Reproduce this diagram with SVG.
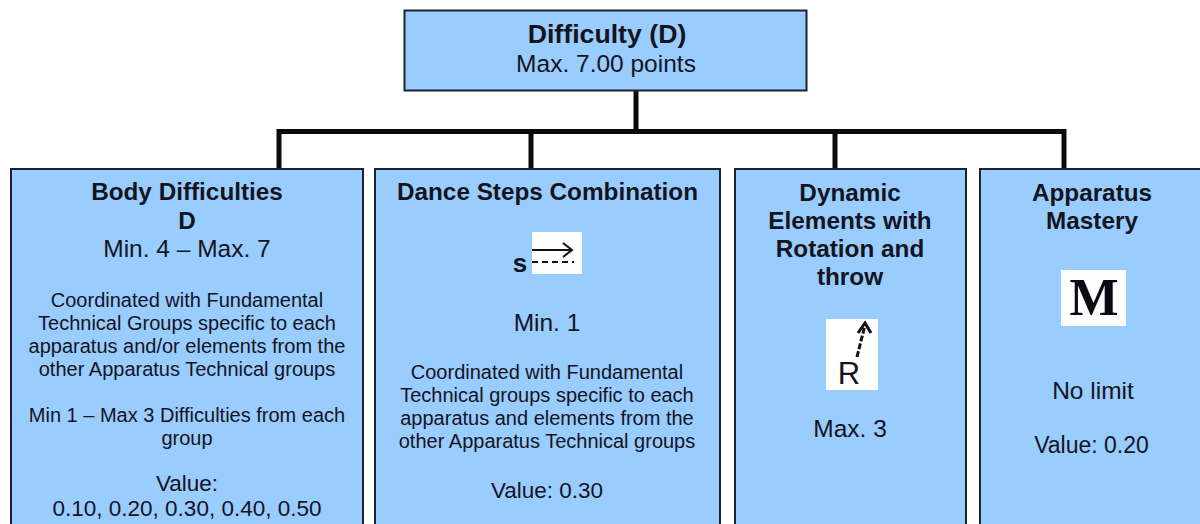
<svg xmlns="http://www.w3.org/2000/svg" width="1200" height="524" viewBox="0 0 1200 524">
<style>
.box{fill:#99ccff;stroke:#1a2230;stroke-width:2}
text{font-family:"Liberation Sans",Arial,sans-serif;fill:#14141c;text-anchor:middle}
.h{font-weight:bold;font-size:26.700px}
.t{font-weight:bold;font-size:24.300px}
.v{font-size:24.500px}
.s{font-size:20px}
.n{font-size:22.500px}
.w{fill:#fdfdfd}
.c{fill:none;stroke:#0a0a0a;stroke-width:5}
.g{fill:none;stroke:#111;stroke-width:2}
</style>
<rect width="1200" height="524" fill="#fff"/>
<g id="connectors">
<path class="c" d="M636 91V131"/>
<path class="c" d="M279 168V131.500H1064V168"/>
<path class="c" d="M531 131V168"/>
<path class="c" d="M835 131V168"/>
</g>
<g id="root">
<rect class="box" x="404.500" y="10.500" width="402" height="80"/>
<text class="h" x="607" y="43">Difficulty (D)</text>
<text class="v" x="606" y="72">Max. 7.00 points</text>
</g>
<g id="body-difficulties">
<rect class="box" x="11" y="169" width="352" height="370"/>
<text class="t" x="187" y="200">Body Difficulties</text>
<text class="t" x="187" y="229">D</text>
<text class="v" x="187" y="257">Min. 4 – Max. 7</text>
<text class="s" x="187" y="307">Coordinated with Fundamental</text>
<text class="s" x="187" y="330">Technical Groups specific to each</text>
<text class="s" x="187" y="353">apparatus and/or elements from the</text>
<text class="s" x="187" y="376">other Apparatus Technical groups</text>
<text class="s" x="187" y="422">Min 1 – Max 3 Difficulties from each</text>
<text class="s" x="187" y="445">group</text>
<text class="n" x="187" y="491">Value:</text>
<text class="n" x="187" y="516">0.10, 0.20, 0.30, 0.40, 0.50</text>
</g>
<g id="dance-steps">
<rect class="box" x="375" y="169" width="345" height="370"/>
<text class="t" x="547.500" y="200">Dance Steps Combination</text>
<rect class="w" x="532" y="232" width="50" height="42"/>
<text x="520" y="272" style="font-size:26px;font-weight:bold">s</text>
<path class="g" d="M532 250H572M563 243L572 250L563 257"/>
<path class="g" d="M532 262H574" stroke-dasharray="6 4"/>
<text class="v" x="547" y="331">Min. 1</text>
<text class="s" x="547" y="379">Coordinated with Fundamental</text>
<text class="s" x="547" y="402">Technical groups specific to each</text>
<text class="s" x="547" y="425">apparatus and elements from the</text>
<text class="s" x="547" y="448">other Apparatus Technical groups</text>
<text class="n" x="547" y="498">Value: 0.30</text>
</g>
<g id="dynamic-elements">
<rect class="box" x="735" y="169" width="231" height="370"/>
<text class="t" x="850" y="201">Dynamic</text>
<text class="t" x="850" y="229">Elements with</text>
<text class="t" x="850" y="257">Rotation and</text>
<text class="t" x="850" y="285">throw</text>
<rect fill="#fff" x="826" y="319" width="52" height="71"/>
<text x="849" y="384" style="font-size:31px">R</text>
<path d="M857 357L865 325" fill="none" stroke="#111" stroke-width="3" stroke-dasharray="6 2"/>
<path d="M858 333L865 323L871 333" fill="none" stroke="#111" stroke-width="3"/>
<text class="v" x="850" y="437">Max. 3</text>
</g>
<g id="apparatus-mastery">
<rect class="box" x="980" y="169" width="232" height="370"/>
<text class="t" x="1092" y="201">Apparatus</text>
<text class="t" x="1092" y="229">Mastery</text>
<rect class="w" x="1061" y="270" width="65" height="56"/>
<text x="1094" y="315" style="font-family:'Liberation Serif',serif;font-weight:bold;font-size:52px;fill:#0a0a14">M</text>
<text class="v" x="1093" y="399">No limit</text>
<text x="1091.500" y="453" style="font-size:23px">Value: 0.20</text>
</g>
</svg>
